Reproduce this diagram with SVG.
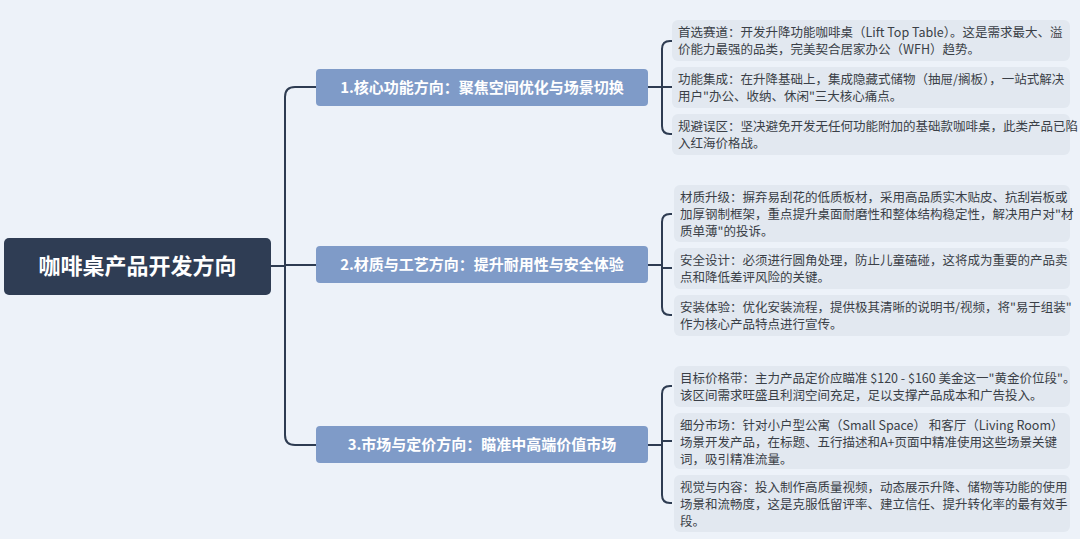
<svg xmlns="http://www.w3.org/2000/svg" width="1080" height="539" viewBox="0 0 1080 539">
<style>
.leaf{fill:#e2e8f0}
.lt{font-family:"Noto Sans CJK SC","Noto Sans",sans-serif;font-size:12.5px;fill:#3a3f47}
.br{fill:#7f9bc8}
.bt{font-family:"Noto Sans CJK SC",sans-serif;font-size:15px;font-weight:bold;fill:#fff}
.c{fill:none;stroke:#2e3c52;stroke-width:2}
</style>
<rect width="1080" height="539" fill="#edf2f9"/>
<g id="connectors">
<path class="c" d="M271 266 H285 M316 87 H295 Q285 87 285 97 V435 Q285 445 295 445 H316 M285 265 H316"/>
<path class="c" d="M648 87 H662 M672 41 H670 Q662 41 662 49 V126 Q662 134 670 134 H672 M662 87 H672"/>
<path class="c" d="M648 265 H662 M672 214 H670 Q662 214 662 222 V307 Q662 315 670 315 H672 M662 268 H672"/>
<path class="c" d="M648 445 H662 M672 386 H670 Q662 386 662 394 V495 Q662 503 670 503 H672 M662 441 H672"/>
</g>
<g id="root"><rect x="4" y="238" width="267" height="57" rx="5" fill="#2f3d54"/>
<text x="137.5" y="274" text-anchor="middle" font-family="Noto Sans CJK SC,sans-serif" font-size="22" font-weight="bold" fill="#fff">咖啡桌产品开发方向</text></g>
<g id="b1"><rect class="br" x="316" y="69" width="332" height="37" rx="4"/><text class="bt" x="482" y="93" text-anchor="middle">1.核心功能方向：聚焦空间优化与场景切换</text></g>
<g id="b2"><rect class="br" x="316" y="246" width="332" height="37" rx="4"/><text class="bt" x="482" y="270" text-anchor="middle">2.材质与工艺方向：提升耐用性与安全体验</text></g>
<g id="b3"><rect class="br" x="316" y="426" width="332" height="37" rx="4"/><text class="bt" x="482" y="450" text-anchor="middle">3.市场与定价方向：瞄准中高端价值市场</text></g>
<g id="l11"><rect class="leaf" x="672" y="20" width="398" height="41" rx="6"/><text class="lt" x="678" y="37">首选赛道：开发升降功能咖啡桌（Lift Top Table）。这是需求最大、溢</text><text class="lt" x="678" y="54">价能力最强的品类，完美契合居家办公（WFH）趋势。</text></g>
<g id="l12"><rect class="leaf" x="672" y="67" width="398" height="41" rx="6"/><text class="lt" x="678" y="84">功能集成：在升降基础上，集成隐藏式储物（抽屉/搁板），一站式解决</text><text class="lt" x="678" y="101">用户"办公、收纳、休闲"三大核心痛点。</text></g>
<g id="l13"><rect class="leaf" x="672" y="114" width="398" height="41" rx="6"/><text class="lt" x="678" y="131">规避误区：坚决避免开发无任何功能附加的基础款咖啡桌，此类产品已陷</text><text class="lt" x="678" y="148">入红海价格战。</text></g>
<g id="l21"><rect class="leaf" x="674" y="185" width="396" height="57" rx="6"/><text class="lt" x="680" y="202">材质升级：摒弃易刮花的低质板材，采用高品质实木贴皮、抗刮岩板或</text><text class="lt" x="680" y="219">加厚钢制框架，重点提升桌面耐磨性和整体结构稳定性，解决用户对"材</text><text class="lt" x="680" y="236">质单薄"的投诉。</text></g>
<g id="l22"><rect class="leaf" x="674" y="248" width="396" height="41" rx="6"/><text class="lt" x="680" y="265">安全设计：必须进行圆角处理，防止儿童磕碰，这将成为重要的产品卖</text><text class="lt" x="680" y="282">点和降低差评风险的关键。</text></g>
<g id="l23"><rect class="leaf" x="674" y="295" width="396" height="41" rx="6"/><text class="lt" x="680" y="312">安装体验：优化安装流程，提供极其清晰的说明书/视频，将"易于组装"</text><text class="lt" x="680" y="329">作为核心产品特点进行宣传。</text></g>
<g id="l31"><rect class="leaf" x="674" y="366" width="396" height="41" rx="6"/><text class="lt" x="680" y="383">目标价格带：主力产品定价应瞄准 $120 - $160 美金这一"黄金价位段"。</text><text class="lt" x="680" y="400">该区间需求旺盛且利润空间充足，足以支撑产品成本和广告投入。</text></g>
<g id="l32"><rect class="leaf" x="674" y="413" width="396" height="56" rx="6"/><text class="lt" x="680" y="430">细分市场：针对小户型公寓（Small Space） 和客厅（Living Room）</text><text class="lt" x="680" y="447">场景开发产品，在标题、五行描述和A+页面中精准使用这些场景关键</text><text class="lt" x="680" y="464">词，吸引精准流量。</text></g>
<g id="l33"><rect class="leaf" x="674" y="475" width="396" height="57" rx="6"/><text class="lt" x="680" y="492">视觉与内容：投入制作高质量视频，动态展示升降、储物等功能的使用</text><text class="lt" x="680" y="509">场景和流畅度，这是克服低留评率、建立信任、提升转化率的最有效手</text><text class="lt" x="680" y="526">段。</text></g>
</svg>
